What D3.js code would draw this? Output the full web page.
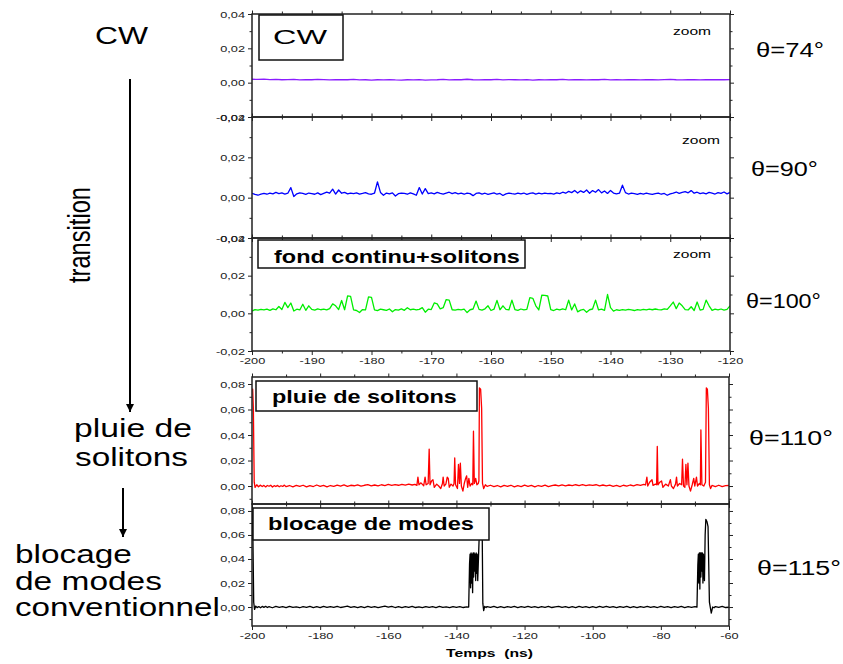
<!DOCTYPE html>
<html><head><meta charset="utf-8">
<script src="https://cdn.jsdelivr.net/npm/d3@7"></script>
<style>body{margin:0;background:#fff}svg{display:block}</style>
</head><body>
<svg id="c" width="843" height="664"></svg>
<script>
// ---------------- DATA ----------------
const timeStart = -200;
const stepCW = 1;      // ns between samples of the θ=74° trace
const stepA = 0.5;     // ns between samples of θ=90° and θ=100° traces

const sig74 = [0.0020,0.0019,0.0021,0.0018,0.0019,0.0017,0.0018,0.0019,0.0016,0.0018,
0.0017,0.0019,0.0018,0.0016,0.0017,0.0018,0.0017,0.0019,0.0016,0.0017,
0.0015,0.0017,0.0016,0.0018,0.0016,0.0015,0.0017,0.0016,0.0018,0.0015,
0.0016,0.0017,0.0019,0.0016,0.0018,0.0017,0.0020,0.0017,0.0016,0.0018,
0.0017,0.0019,0.0016,0.0018,0.0017,0.0016,0.0018,0.0015,0.0017,0.0016,
0.0018,0.0017,0.0019,0.0016,0.0018,0.0017,0.0016,0.0018,0.0017,0.0019,
0.0016,0.0017,0.0016,0.0018,0.0017,0.0016,0.0018,0.0017,0.0016,0.0018,
0.0019,0.0017,0.0016,0.0018,0.0017,0.0016,0.0018,0.0017,0.0018,0.0017,0.0018];

const sig90 = [
0.0022,0.0016,0.0012,0.0018,0.0021,0.0017,0.0023,0.0019,0.0026,0.0020,
0.0024,0.0018,0.0022,0.0050,0.0006,0.0019,0.0024,0.0021,0.0016,0.0023,
0.0020,0.0017,0.0024,0.0015,0.0021,0.0027,0.0022,0.0042,0.0018,0.0038,
0.0022,0.0026,0.0019,0.0023,0.0020,0.0024,0.0018,0.0021,0.0025,0.0019,
0.0017,0.0022,0.0078,0.0026,0.0012,0.0023,0.0019,0.0024,0.0008,0.0020,
0.0023,0.0021,0.0017,0.0024,0.0019,0.0012,0.0050,0.0018,0.0045,0.0020,
0.0024,0.0019,0.0026,0.0021,0.0018,0.0023,0.0027,0.0020,0.0025,0.0019,
0.0022,0.0017,0.0023,0.0020,0.0010,0.0021,0.0024,0.0018,0.0022,0.0016,
0.0020,0.0024,0.0017,0.0021,0.0011,0.0019,0.0023,0.0020,0.0018,0.0022,
0.0019,0.0023,0.0016,0.0021,0.0024,0.0018,0.0022,0.0019,0.0023,0.0020,
0.0021,0.0018,0.0024,0.0020,0.0027,0.0022,0.0031,0.0025,0.0036,0.0023,
0.0034,0.0026,0.0038,0.0022,0.0035,0.0027,0.0040,0.0024,0.0033,0.0021,
0.0036,0.0023,0.0019,0.0022,0.0062,0.0025,0.0018,0.0022,0.0020,0.0016,
0.0021,0.0018,0.0022,0.0019,0.0016,0.0020,0.0023,0.0017,0.0021,0.0012,
0.0019,0.0023,0.0028,0.0021,0.0026,0.0030,0.0024,0.0035,0.0022,0.0027,
0.0020,0.0024,0.0019,0.0026,0.0022,0.0018,0.0025,0.0021,0.0028,0.0019,
0.0026];

const sig100 = [
0.0012,0.0020,0.0017,0.0021,0.0018,0.0022,0.0016,0.0024,0.0019,0.0036,
0.0020,0.0058,0.0030,0.0055,0.0012,0.0022,0.0018,0.0048,0.0016,0.0040,
0.0021,0.0017,0.0024,0.0019,0.0022,0.0018,0.0025,0.0050,0.0040,0.0020,
0.0068,0.0019,0.0093,0.0090,0.0018,0.0015,0.0004,0.0020,0.0018,0.0087,
0.0085,0.0018,0.0014,0.0022,0.0019,0.0016,0.0023,0.0008,0.0020,0.0017,
0.0024,0.0016,0.0030,0.0019,0.0022,0.0018,0.0021,0.0030,0.0006,0.0022,
0.0020,0.0055,0.0050,0.0024,0.0030,0.0073,0.0070,0.0019,0.0017,0.0021,
0.0018,0.0022,0.0004,0.0019,0.0023,0.0065,0.0021,0.0017,0.0024,0.0040,
0.0015,0.0022,0.0069,0.0019,0.0040,0.0021,0.0018,0.0070,0.0020,0.0016,
0.0023,0.0018,0.0021,0.0083,0.0080,0.0040,0.0018,0.0096,0.0095,0.0092,
0.0020,0.0015,0.0022,0.0018,0.0024,0.0019,0.0070,0.0018,0.0050,0.0008,
0.0017,0.0021,0.0006,0.0019,0.0023,0.0070,0.0018,0.0022,0.0016,0.0100,
0.0030,0.0012,0.0019,0.0016,0.0020,0.0017,0.0021,0.0018,0.0015,0.0020,
0.0017,0.0021,0.0018,0.0022,0.0019,0.0023,0.0020,0.0018,0.0024,0.0021,
0.0040,0.0060,0.0025,0.0055,0.0040,0.0020,0.0018,0.0035,0.0015,0.0060,
0.0017,0.0021,0.0070,0.0040,0.0016,0.0022,0.0018,0.0023,0.0017,0.0021,
0.0040];

const sig110 = [[-200,0.075],[-199.8,0.076],[-199.6,0.061],[-199.35,0.003],[-199.1,-0.001],[-198.6,0.001],[-198.1,-0.0006],[-197.5,0.0007],[-197,-0.0004],[-196.5,0.0005],[-196,-0.0007],[-195.5,0.0004],[-195,-0.0002],[-194.5,0.0006],[-194,-0.0008],[-193.5,0.0003],[-193,-0.0004],[-192.5,0.0005],[-192,-0.0006],[-191.5,0.0002],[-191,-0.0003],[-190.5,0.0007],[-190,-0.0005],[-189,0.0004],[-188,-0.0006],[-187,0.0005],[-186,-0.0003],[-185,0.0006],[-184,-0.0007],[-183,0.0003],[-182,-0.0004],[-181,0.0008],[-180,-0.0002],[-179,0.0005],[-178,-0.0006],[-177,0.0004],[-176,-0.0003],[-175,0.0007],[-174,0.0000],[-173,0.0009],[-172,-0.0002],[-171,0.0006],[-170,0.0002],[-169,0.0009],[-168,-0.0001],[-167,0.0006],[-166,0.0011],[-165,0.0002],[-164,0.0008],[-163,0.0001],[-162,0.0010],[-161,0.0004],[-160,0.0012],[-159,0.0005],[-158,0.0011],[-157,0.0006],[-156,0.0013],[-155,0.0007],[-154,0.0014],[-153,0.0008],[-152.2,0.0013],[-151.6,0.0005],[-151.3,0.007],[-151.0,0.001],[-150.4,0.0025],[-149.6,0.0002],[-149.2,0.007],[-148.9,0.001],[-148.3,0.002],[-148.0,0.029],[-147.75,0.001],[-147.3,0.004],[-146.9,0.005],[-146.5,-0.001],[-145.8,0.0015],[-145.2,0.000],[-144.6,-0.002],[-144.1,0.002],[-143.9,0.007],[-143.6,0.000],[-143.1,0.0015],[-142.7,0.007],[-142.4,0.006],[-142.1,-0.001],[-141.6,0.0015],[-141.0,0.000],[-140.7,0.002],[-140.5,0.022],[-140.25,0.001],[-139.7,-0.002],[-139.4,0.017],[-139.1,0.002],[-138.85,0.018],[-138.55,0.000],[-138.1,-0.004],[-137.7,0.002],[-137.3,0.006],[-137.0,0.008],[-136.7,-0.001],[-136.35,0.006],[-136.0,0.000],[-135.5,0.002],[-135.2,0.001],[-135.0,0.043],[-134.75,0.002],[-134.35,0.006],[-134.0,0.001],[-133.6,0.002],[-133.4,0.004],[-133.25,0.077],[-132.9,0.076],[-132.6,0.061],[-132.35,0.002],[-132.0,-0.002],[-131.5,0.001],[-131,-0.0003],[-130,0.0006],[-129,-0.0005],[-128,0.0004],[-127,-0.0007],[-126,0.0005],[-125,-0.0002],[-124,0.0006],[-123,-0.0006],[-122,0.0003],[-121,-0.0004],[-120,0.0007],[-119,-0.0003],[-118,0.0005],[-117,-0.0006],[-116,0.0004],[-115,-0.0002],[-114,0.0007],[-113,-0.0005],[-112,0.0003],[-111,0.0008],[-110,0.0001],[-109,0.0009],[-108,0.0002],[-107,0.0008],[-106,0.0003],[-105,0.0010],[-104,0.0004],[-103,0.0011],[-102,0.0003],[-101,0.0009],[-100,0.0005],[-99,0.0010],[-98,0.0002],[-97,0.0008],[-96,0.0001],[-95,0.0007],[-94,-0.0002],[-93,0.0005],[-92,-0.0004],[-91,0.0006],[-90,0.0000],[-89,0.0008],[-88,0.0002],[-87,0.0011],[-86,0.0005],[-85,0.0013],[-84.5,0.0008],[-84.1,0.007],[-83.85,0.000],[-83.3,0.003],[-82.6,0.005],[-82.3,0.0005],[-81.6,0.0015],[-81.25,0.001],[-81.05,0.031],[-80.85,0.001],[-80.3,0.003],[-79.8,0.004],[-79.4,-0.001],[-78.6,0.0015],[-77.8,0.000],[-77.2,0.005],[-76.9,0.000],[-76.3,-0.002],[-75.7,0.0015],[-75.4,0.007],[-75.15,0.000],[-74.5,0.002],[-73.9,0.001],[-73.65,0.021],[-73.35,0.000],[-72.95,-0.001],[-72.65,0.017],[-72.35,0.001],[-72.05,0.018],[-71.75,0.000],[-71.3,-0.004],[-70.8,0.001],[-70.35,0.006],[-70.05,0.000],[-69.55,0.007],[-69.25,0.000],[-68.7,0.002],[-68.4,0.001],[-68.25,0.044],[-67.95,0.001],[-67.4,0.000],[-66.9,0.003],[-66.65,0.077],[-66.35,0.076],[-66.05,0.061],[-65.75,0.001],[-65.4,-0.002],[-65,0.0005],[-64,-0.0004],[-63,0.0006],[-62,-0.0005],[-61,0.0003],[-60,0.0004]];

const sig115 = [[-200,0.082],[-199.75,0.062],[-199.5,0.004],[-199.25,-0.002],[-198.9,0.0008],[-198.5,-0.0005],[-198,0.0004],[-197.5,-0.0006],[-197,0.0005],[-196.5,-0.0003],[-196,0.0006],[-195.5,-0.0004],[-195,0.0003],[-194,-0.0006],[-193,0.0005],[-192,-0.0002],[-191,0.0004],[-190,-0.0005],[-189,0.0006],[-188,-0.0003],[-187,0.0002],[-186,-0.0006],[-185,0.0004],[-184,-0.0002],[-183,0.0005],[-182,-0.0004],[-181,0.0003],[-180,-0.0005],[-179,0.0006],[-178,-0.0002],[-177,0.0004],[-176,-0.0003],[-175,0.0006],[-174,-0.0004],[-173,0.0002],[-172,0.0007],[-171,-0.0003],[-170,0.0004],[-169,-0.0005],[-168,0.0003],[-167,-0.0004],[-166,0.0005],[-165,-0.0002],[-164,0.0004],[-163,-0.0005],[-162,0.0002],[-161,0.0007],[-160,-0.0001],[-159,0.0006],[-158,-0.0004],[-157,0.0003],[-156,-0.0005],[-155,0.0004],[-154,-0.0003],[-153,0.0005],[-152,-0.0004],[-151,0.0002],[-150,-0.0005],[-149,0.0004],[-148,-0.0003],[-147,0.0003],[-146,-0.0004],[-145,0.0005],[-144,-0.0003],[-143,0.0002],[-142,-0.0005],[-141,0.0004],[-140,-0.0002],[-139,0.0003],[-138,-0.0004],[-137,0.0002],[-136.4,0.0000],[-136.15,0.036],[-136.0,0.044],[-135.85,0.016],[-135.7,0.045],[-135.55,0.020],[-135.4,0.044],[-135.25,0.012],[-135.1,0.045],[-134.95,0.025],[-134.8,0.045],[-134.65,0.030],[-134.5,0.044],[-134.35,0.022],[-134.2,0.045],[-134.05,0.028],[-133.9,0.044],[-133.75,0.022],[-133.3,0.060],[-133.1,0.073],[-132.7,0.072],[-132.45,0.067],[-132.25,0.003],[-132.0,-0.003],[-131.7,0.0005],[-131.3,-0.0004],[-131,0.0004],[-130,-0.0003],[-129,0.0005],[-128,-0.0004],[-127,0.0003],[-126,-0.0005],[-125,0.0004],[-124,-0.0002],[-123,0.0005],[-122,-0.0004],[-121,0.0003],[-120,-0.0003],[-119,0.0006],[-118,-0.0002],[-117,0.0004],[-116,-0.0005],[-115,0.0003],[-114,-0.0003],[-113,0.0005],[-112,-0.0004],[-111,0.0002],[-110,0.0006],[-109,-0.0003],[-108,0.0004],[-107,-0.0005],[-106,0.0003],[-105,-0.0004],[-104,0.0005],[-103,-0.0002],[-102,0.0004],[-101,-0.0005],[-100,0.0003],[-99,-0.0004],[-98,0.0005],[-97,-0.0002],[-96,0.0006],[-95,-0.0003],[-94,0.0004],[-93,-0.0005],[-92,0.0003],[-91,-0.0003],[-90,0.0005],[-89,-0.0004],[-88,0.0003],[-87,-0.0005],[-86,0.0004],[-85,-0.0002],[-84,0.0005],[-83,-0.0003],[-82,0.0004],[-81,-0.0004],[-80,0.0006],[-79,-0.0002],[-78,0.0004],[-77,-0.0005],[-76,0.0003],[-75,-0.0003],[-74,0.0005],[-73,-0.0004],[-72,0.0003],[-71,-0.0002],[-70,0.0004],[-69.4,0.0000],[-69.15,0.035],[-69.0,0.044],[-68.85,0.020],[-68.7,0.045],[-68.55,0.015],[-68.4,0.045],[-68.25,0.025],[-68.1,0.045],[-67.95,0.030],[-67.8,0.045],[-67.65,0.020],[-67.5,0.044],[-67.35,0.030],[-67.2,0.022],[-67.0,0.060],[-66.8,0.073],[-66.45,0.071],[-66.15,0.067],[-65.75,0.004],[-65.2,-0.005],[-64.8,0.000],[-64.4,-0.0006],[-64,0.0004],[-63,-0.0003],[-62,0.0005],[-61,-0.0004],[-60,-0.0002]];

const xMajorTop = [-200,-190,-180,-170,-160,-150,-140,-130,-120];
const xMinorTop = [-195,-185,-175,-165,-155,-145,-135,-125];
const xMajorBottom = [-200,-180,-160,-140,-120,-100,-80,-60];
const xMinorBottom = [-190,-170,-150,-130,-110,-90,-70];
const yMajorSmall = [-0.02,0,0.02,0.04];
const yMinorSmall = [-0.01,0.01,0.03];
const yMajorBig = [0,0.02,0.04,0.06,0.08];
const yMinorBig = [-0.01,0.01,0.03,0.05,0.07];
const thetaLabels = ["θ=74°","θ=90°","θ=100°","θ=110°","θ=115°"];
const boxLabels = ["CW", null, "fond continu+solitons", "pluie de solitons", "blocage de modes"];
const zoomLabel = "zoom";
const xTitle = "Temps  (ns)";
const sideLabels = ["CW","transition","pluie de","solitons","blocage","de modes","conventionnel"];
const traceColors = ["#8a1cff","#0000ff","#00ee00","#ff0000","#000000"];

// ---------------- DRAWING ----------------
const svg = d3.select("#c");
const FONT = "'Liberation Sans', Arial, Helvetica, sans-serif";
const fmt = v => d3.format(".2f")(v).replace("−","-").replace(".",",");

function fitText(parent, str, o) {
  const t = parent.append("text")
    .attr("font-family", FONT).attr("font-size", o.size)
    .attr("font-weight", o.weight || "normal").attr("fill", "#000")
    .style("white-space","pre").attr("text-anchor", o.anchor || "start").text(str);
  const w = t.node().getComputedTextLength();
  const sx = o.width ? o.width / w : (o.sx || 1);
  t.attr("transform", `translate(${o.x},${o.y})${o.rotate ? ` rotate(${o.rotate})` : ""} scale(${sx},1)`);
  return t;
}

const panels = [
  {data: sig74.map((v,i)=>[timeStart+i*stepCW, v]), xDom:[-200,-120], yDom:[-0.02,0.04], top:14, bottom:117, left:252, right:730,
   xMaj:xMajorTop, xMin:xMinorTop, yMaj:yMajorSmall, yMin:yMinorSmall, xLab:false},
  {data: sig90.map((v,i)=>[timeStart+i*stepA, v]), xDom:[-200,-120], yDom:[-0.02,0.04], top:117, bottom:238, left:252, right:730,
   xMaj:xMajorTop, xMin:xMinorTop, yMaj:yMajorSmall, yMin:yMinorSmall, xLab:false},
  {data: sig100.map((v,i)=>[timeStart+i*stepA, v]), xDom:[-200,-120], yDom:[-0.02,0.04], top:238, bottom:351, left:252, right:730,
   xMaj:xMajorTop, xMin:xMinorTop, yMaj:yMajorSmall, yMin:yMinorSmall, xLab:true},
  {data: sig110, xDom:[-200,-60], yDom:[-0.0141,0.0855], top:377, bottom:504, left:252, right:729,
   xMaj:xMajorBottom, xMin:xMinorBottom, yMaj:yMajorBig, yMin:yMinorBig, xLab:false},
  {data: sig115, xDom:[-200,-60], yDom:[-0.0158,0.0858], top:504, bottom:626, left:252, right:729,
   xMaj:xMajorBottom, xMin:xMinorBottom, yMaj:yMajorBig, yMin:yMinorBig, xLab:true}
];

const boxGeom = [
  {x:259,y:15,w:84,h:45, tx:273,ty:43.5,size:21,tw:54,weight:"normal"},
  null,
  {x:258,y:240,w:267,h:28, tx:274,ty:262.5,size:18.5,tw:246,weight:"bold"},
  {x:256,y:381,w:221,h:30, tx:272,ty:403,size:18.5,tw:185,weight:"bold"},
  {x:253,y:508,w:236,h:32, tx:268,ty:530,size:17.7,tw:206,weight:"bold"}
];
const zoomPos = [{x:673,y:35},{x:682,y:144},{x:673,y:258}];
const thetaPos = [{x:756,y:56.5,w:68},{x:751,y:175.5,w:67},{x:746,y:307.5,w:75},{x:749,y:445,w:84},{x:757,y:575,w:84}];

function styleAxis(g){
  g.select(".domain").remove();
  g.selectAll(".tick line").attr("stroke","#222").attr("stroke-width",1);
  g.attr("font-family", FONT).attr("font-size", 8.5);
}

panels.forEach((p, i) => {
  const x = d3.scaleLinear().domain(p.xDom).range([p.left, p.right]);
  const y = d3.scaleLinear().domain(p.yDom).range([p.bottom, p.top]);
  const g = svg.append("g");
  const clipId = "clip" + i;
  svg.append("clipPath").attr("id", clipId).append("rect")
    .attr("x", p.left).attr("y", p.top).attr("width", p.right - p.left).attr("height", p.bottom - p.top);

  g.append("path").datum(p.data).attr("clip-path", `url(#${clipId})`)
    .attr("fill","none").attr("stroke", traceColors[i]).attr("stroke-width", 1.3)
    .attr("stroke-linejoin","round")
    .attr("d", d3.line().x(d => x(d[0])).y(d => y(d[1])));

  // left axis
  const gl = g.append("g").attr("transform", `translate(${p.left},0)`)
    .call(d3.axisLeft(y).tickValues(p.yMaj).tickSize(4).tickFormat(fmt));
  styleAxis(gl);
  gl.selectAll("text").attr("x", null).attr("dy", null).attr("fill","#222")
    .attr("transform", "translate(-7,3) scale(1.5,1)");
  const glm = g.append("g").attr("transform", `translate(${p.left},0)`)
    .call(d3.axisLeft(y).tickValues(p.yMin).tickSize(2.5).tickFormat(""));
  styleAxis(glm);
  // right axis
  const gr = g.append("g").attr("transform", `translate(${p.right},0)`)
    .call(d3.axisRight(y).tickValues(p.yMaj).tickSize(4).tickFormat(""));
  styleAxis(gr);
  const grm = g.append("g").attr("transform", `translate(${p.right},0)`)
    .call(d3.axisRight(y).tickValues(p.yMin).tickSize(2.5).tickFormat(""));
  styleAxis(grm);
  // top axis
  const gt = g.append("g").attr("transform", `translate(0,${p.top})`)
    .call(d3.axisTop(x).tickValues(p.xMaj).tickSize(3.5).tickFormat(""));
  styleAxis(gt);
  const gtm = g.append("g").attr("transform", `translate(0,${p.top})`)
    .call(d3.axisTop(x).tickValues(p.xMin).tickSize(2.5).tickFormat(""));
  styleAxis(gtm);
  // bottom axis
  const gb = g.append("g").attr("transform", `translate(0,${p.bottom})`)
    .call(d3.axisBottom(x).tickValues(p.xMaj).tickSize(4).tickFormat(p.xLab ? (v => d3.format("d")(v).replace("−","-")) : ""));
  styleAxis(gb);
  gb.selectAll("text").attr("y", null).attr("dy", null).attr("fill","#222")
    .attr("transform", "translate(0,13) scale(1.5,1)");
  const gbm = g.append("g").attr("transform", `translate(0,${p.bottom})`)
    .call(d3.axisBottom(x).tickValues(p.xMin).tickSize(2.5).tickFormat(""));
  styleAxis(gbm);

  // frame
  g.append("rect").attr("x", p.left).attr("y", p.top)
    .attr("width", p.right - p.left).attr("height", p.bottom - p.top)
    .attr("fill","none").attr("stroke","#222").attr("stroke-width",1.5);

  // label box
  const b = boxGeom[i];
  if (b && boxLabels[i]) {
    g.append("rect").attr("x", b.x).attr("y", b.y).attr("width", b.w).attr("height", b.h)
      .attr("fill","#fff").attr("stroke","#111").attr("stroke-width",1.5);
    fitText(g, boxLabels[i], {x:b.tx, y:b.ty, size:b.size, width:b.tw, weight:b.weight});
  }
  if (zoomPos[i]) fitText(g, zoomLabel, {x:zoomPos[i].x, y:zoomPos[i].y, size:11, width:38});
  const tp = thetaPos[i];
  fitText(svg, thetaLabels[i], {x:tp.x, y:tp.y, size:19.5, width:tp.w});
});

// x-axis title
fitText(svg, xTitle, {x:446, y:656.5, size:10.5, width:87, weight:"bold"});

// left side annotations
fitText(svg, sideLabels[0], {x:95, y:44, size:24, width:53});
fitText(svg, sideLabels[1], {x:90, y:235, size:31, width:96, anchor:"middle", rotate:-90});
fitText(svg, sideLabels[2], {x:74, y:437, size:25, width:118});
fitText(svg, sideLabels[3], {x:75, y:466, size:25, width:113});
fitText(svg, sideLabels[4], {x:15, y:563, size:25, width:117});
fitText(svg, sideLabels[5], {x:15, y:590, size:25, width:147});
fitText(svg, sideLabels[6], {x:15, y:616, size:25, width:205});

// arrows
const defs = svg.append("defs");
defs.append("marker").attr("id","ah").attr("viewBox","0 0 10 10").attr("refX",10).attr("refY",5)
  .attr("markerWidth",4).attr("markerHeight",5).attr("markerUnits","strokeWidth").attr("orient","auto")
  .append("path").attr("d","M0,0 L10,5 L0,10 Z").attr("fill","#000");
svg.append("line").attr("x1",130).attr("y1",79).attr("x2",130).attr("y2",412)
  .attr("stroke","#000").attr("stroke-width",2).attr("marker-end","url(#ah)");
svg.append("line").attr("x1",123).attr("y1",488).attr("x2",123).attr("y2",537)
  .attr("stroke","#000").attr("stroke-width",2).attr("marker-end","url(#ah)");
</script>
</body></html>
